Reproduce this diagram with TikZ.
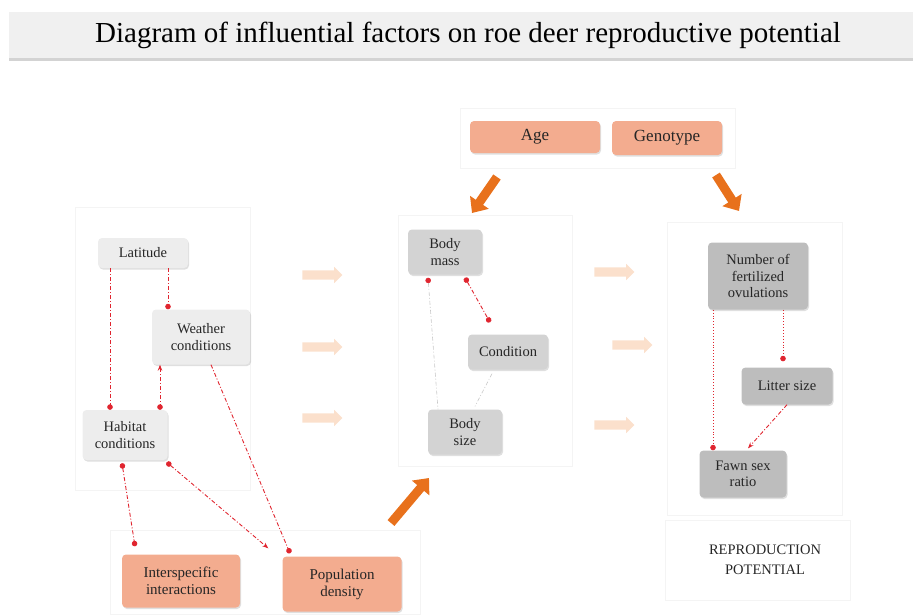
\documentclass[tikz,border=0pt]{standalone}
\usepackage{fontspec}
\setmainfont{Liberation Serif}
\usetikzlibrary{arrows.meta,shadows,shapes.arrows,positioning,calc}
\definecolor{TitleGray}{HTML}{F0F0F0}
\definecolor{PanelLine}{HTML}{F4F4F4}
\definecolor{LightBox}{HTML}{EDEDED}
\definecolor{MidBox}{HTML}{D3D3D3}
\definecolor{DarkBox}{HTML}{BDBDBD}
\definecolor{Salmon}{HTML}{F3AC8F}
\definecolor{DeepOrange}{HTML}{E8711C}
\definecolor{PaleOrange}{HTML}{FBE0CC}
\definecolor{RedLink}{HTML}{E0252F}
\definecolor{GrayLink}{HTML}{C8C8C8}
\tikzset{
    panel/.style = {draw=PanelLine, line width=0.8pt},
    box/.style = {rectangle, rounded corners=4pt, align=center,
        font=\fontsize{14.5}{16.5}\selectfont, text=black!85,
        drop shadow={opacity=0.25, shadow xshift=1pt, shadow yshift=-1.5pt}},
    lightbox/.style = {box, fill=LightBox},
    midbox/.style = {box, fill=MidBox},
    darkbox/.style = {box, fill=DarkBox},
    salmonbox/.style = {box, fill=Salmon, font=\fontsize{15}{17}\selectfont},
    redlink/.style = {draw=RedLink, line width=0.9pt,
        dash pattern=on 4pt off 2pt on 1pt off 2pt},
    dotlink/.style = {draw=RedLink, line width=0.9pt, dotted},
    graylink/.style = {draw=GrayLink, line width=0.6pt,
        dash pattern=on 4pt off 2pt on 1pt off 2pt},
    dot/.tip = {Circle[length=5.5pt]},
    reddot/.tip = {Circle[length=5.5pt, color=RedLink]},
    bigarrow/.style = {draw=DeepOrange, line width=9pt,
        -{Triangle[width=22pt,length=13pt]}},
    palearrow/.style = {single arrow, fill=PaleOrange, draw=none,
        minimum height=40pt, inner xsep=0pt, inner ysep=4.5pt,
        single arrow head extend=3.5pt}
}
\begin{document}
\begin{tikzpicture}[x=1pt, y=-1pt]
    \useasboundingbox (0,0) rectangle (913,614);
    % title bar
    \node [rectangle, fill=TitleGray, minimum width=918pt, minimum height=46pt,
        drop shadow={opacity=0.35, shadow xshift=0pt, shadow yshift=-3pt},
        font=\fontsize{29}{32}\selectfont] (title) at (468,35)
        {Diagram of influential factors on roe deer reproductive potential};
    % panels
    \draw [panel] (75,207) rectangle (250,490);
    \draw [panel] (110,530) rectangle (420,614);
    \draw [panel] (398,215) rectangle (572,466);
    \draw [panel] (460,108) rectangle (735,168);
    \draw [panel] (667,222) rectangle (842,515);
    \draw [panel] (665,520) rectangle (850,600);
    % environment
    \node [lightbox, minimum width=90pt, minimum height=30pt] (latitude) at (143,253) {Latitude};
    \node [lightbox, minimum width=98pt, minimum height=55pt] (weather) at (201,337) {Weather\\conditions};
    \node [lightbox, minimum width=85pt, minimum height=50pt] (habitat) at (125,435) {Habitat\\conditions};
    \node [salmonbox, minimum width=118pt, minimum height=53pt] (inter) at (181,581) {Interspecific\\interactions};
    \node [salmonbox, minimum width=119pt, minimum height=55pt] (popdens) at (342,584) {Population\\density};
    % individual
    \node [salmonbox, font=\fontsize{17}{19}\selectfont, minimum width=130pt, minimum height=32pt] (age) at (535,137) {Age};
    \node [salmonbox, font=\fontsize{17}{19}\selectfont, minimum width=110pt, minimum height=34pt] (genotype) at (667,138) {Genotype};
    \node [midbox, minimum width=74pt, minimum height=45pt] (bodymass) at (445,252) {Body\\mass};
    \node [midbox, minimum width=80pt, minimum height=35pt] (condition) at (508,352) {Condition};
    \node [midbox, minimum width=74pt, minimum height=45pt] (bodysize) at (465,432) {Body\\size};
    % reproduction
    \node [darkbox, minimum width=100pt, minimum height=67pt] (ovul) at (758,276) {Number of\\fertilized\\ovulations};
    \node [darkbox, minimum width=91pt, minimum height=37pt] (litter) at (787,386) {Litter size};
    \node [darkbox, minimum width=87pt, minimum height=47pt] (fawn) at (743,474) {Fawn sex\\ratio};
    \node [align=center, font=\fontsize{14.5}{20}\selectfont, text=black!85] (repro) at (765,560) {REPRODUCTION\\POTENTIAL};
    % pale arrows
    \foreach \ypos in {275,347,418}
        \node [palearrow] (pl\ypos) at (320,\ypos) {};
    \node [palearrow] (pr1) at (612,272) {};
    \node [palearrow] (pr2) at (630,345) {};
    \node [palearrow] (pr3) at (612,425) {};
    % big arrows
    \coordinate (agefrom) at (497,177);
    \coordinate (ageto) at (472,213);
    \coordinate (genofrom) at (716,175);
    \coordinate (genoto) at (739,211);
    \coordinate (envfrom) at (391,523);
    \coordinate (envto) at (429,478);
    \draw [bigarrow] (agefrom) -- (ageto);
    \draw [bigarrow] (genofrom) -- (genoto);
    \draw [bigarrow] (envfrom) -- (envto);
    % links, environment
    \draw [redlink, -dot] ([xshift=-33pt]latitude.south) -- ([xshift=-15pt]habitat.north);
    \draw [redlink, -dot] ([xshift=25pt]latitude.south) -- ([xshift=-33pt]weather.north);
    \draw [redlink, {Stealth[length=6pt]}-dot] ([xshift=-41pt]weather.south) -- ([xshift=35pt]habitat.north);
    \draw [redlink, -dot] ([xshift=10pt]weather.south) -- ([xshift=-52pt,yshift=3pt]popdens.north);
    \draw [redlink, dot-{Stealth[length=6pt]}] ([xshift=-1pt,yshift=-2pt]habitat.south east) -- ([xshift=-14pt,yshift=8pt]popdens.north west);
    \draw [redlink, dot-dot] ([xshift=-3pt,yshift=-3pt]habitat.south) -- ([xshift=-46pt,yshift=8pt]inter.north);
    % links, individual
    \draw [redlink, dot-dot] ([xshift=20pt,yshift=-3pt]bodymass.south) -- ([xshift=-18pt,yshift=12pt]condition.north);
    \draw [graylink, reddot-] ([xshift=-17pt,yshift=-3pt]bodymass.south) -- ([xshift=-27pt]bodysize.north);
    \draw [graylink] ([xshift=-16pt,yshift=-4pt]condition.south) -- ([xshift=10pt,yshift=3pt]bodysize.north);
    % links, reproduction
    \draw [dotlink, -dot] ([xshift=-45pt]ovul.south) -- ([xshift=-30pt]fawn.north);
    \draw [dotlink, -dot] ([xshift=25pt]ovul.south) -- ([xshift=-4pt,yshift=6pt]litter.north);
    \draw [redlink, -{Stealth[length=6pt]}] (litter.south) -- ([xshift=5pt,yshift=2pt]fawn.north);
\end{tikzpicture}
\end{document}
